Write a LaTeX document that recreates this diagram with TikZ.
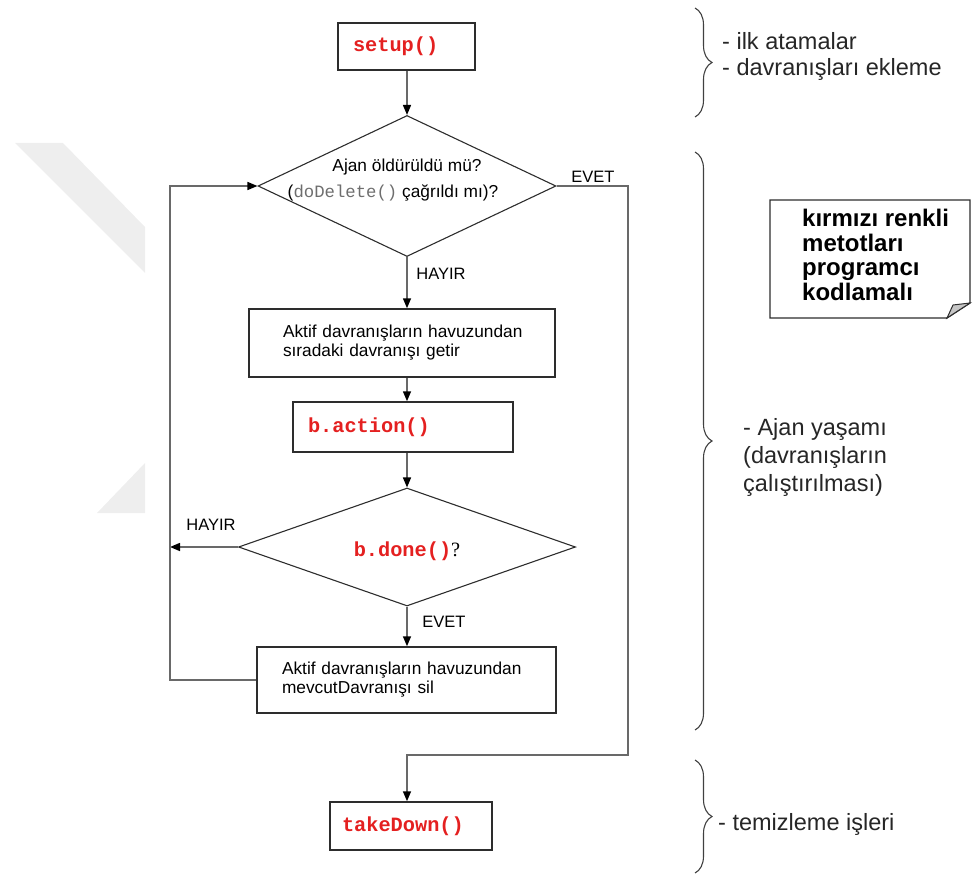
\documentclass[tikz,border=0pt]{standalone}
\usepackage{fontspec}
\setmainfont{Liberation Sans}
\setmonofont{Liberation Mono}
\newfontfamily\serifface{Liberation Serif}
\usetikzlibrary{arrows.meta,decorations.pathreplacing,shapes.geometric}
\definecolor{codered}{RGB}{228,32,32}
\definecolor{linegray}{RGB}{105,105,105}
\definecolor{boxline}{RGB}{45,45,45}
\definecolor{wm}{RGB}{238,238,238}
\definecolor{codegray}{RGB}{110,110,110}
\newcommand{\redcode}[1]{{\fontsize{20.3}{22}\selectfont\ttfamily\bfseries\color{codered}#1}}
\begin{document}
\begin{tikzpicture}[x=1pt,y=-1pt,
  box/.style={draw=boxline,line width=1.5pt,rectangle,inner xsep=0pt,inner ysep=0pt,align=left},
  dia/.style={draw=boxline,line width=1.1pt,diamond,inner sep=0pt},
  conn/.style={draw=linegray,line width=1.5pt},
  arr/.style={conn,-{Triangle[length=10pt,width=8pt,color=black]}},
  txt/.style={font=\fontsize{17.3}{19}\selectfont},
  lbl/.style={font=\fontsize{16.5}{18}\selectfont,inner sep=0pt,anchor=base},
  side/.style={font=\fontsize{23.5}{28}\selectfont,align=left,inner sep=0pt,text=black!85,anchor=north west},
  brc/.style={draw=black!75,line width=1.1pt,decorate,decoration={brace,amplitude=17pt}}
]
\useasboundingbox (0,0) rectangle (973,877);
% watermark
\fill[wm] (15,143) -- (63,143) -- (145,227) -- (145,273) -- cycle;
\fill[wm] (145,463) -- (145,513) -- (97,513) -- cycle;

% nodes
\node[box,text width=137pt,minimum height=47pt] (setup) at (406.5,46.5) {\hspace*{15pt}\redcode{setup()}};
\node[dia,minimum width=298pt,minimum height=141pt] (d1) at (407,186) {};
\node[txt,anchor=base] (q1a) at (407,172) {Ajan öldürüldü mü?};
\node[txt,anchor=base] (q1b) at (393,198) {(\textcolor{codegray}{\ttfamily doDelete()} çağrıldı mı)?};
\node[box,txt,text width=306pt,minimum height=68pt] (box1) at (402,343) {\hspace*{34pt}Aktif davranışların havuzundan\\\hspace*{34pt}sıradaki davranışı getir};
\node[box,text width=220pt,minimum height=50pt] (bact) at (403,427) {\hspace*{15pt}\redcode{b.action()}};
\node[dia,minimum width=337pt,minimum height=118pt] (d2) at (407,547) {};
\node[anchor=base,inner sep=0pt] (q2) at (407,556) {\redcode{b.done()}{\fontsize{20.3}{22}\selectfont\serifface ?}};
\node[box,txt,text width=299pt,minimum height=66pt] (box3) at (406.5,680) {\hspace*{25pt}Aktif davranışların havuzundan\\\hspace*{25pt}mevcutDavranışı sil};
\node[box,text width=162pt,minimum height=48pt] (td) at (411,826) {\hspace*{12pt}\redcode{takeDown()}};

\coordinate (L) at (170,0);
\coordinate (R) at (628,0);
\coordinate (J) at (0,755);

% connectors
\draw[arr] (setup.south -| d1.north) -- (d1.north);
\draw[arr] (d1.south) -- (d1.south |- box1.north);
\draw[arr] (d1.south |- box1.south) -- (d1.south |- bact.north);
\draw[arr] (d1.south |- bact.south) -- (d2.north);
\draw[arr] (d2.south) -- (d2.south |- box3.north);
\draw[arr] (d2.west) -- (L |- d2.west);
\draw[arr] (box3.west) -- (L |- box3.west) -- (L |- d1.west) -- (d1.west);
\draw[arr] (d1.east) -- (R |- d1.east) -- (R |- J) -- (d1.south |- J) -- (d1.south |- td.north);

% labels
\node[lbl] (evet1) at (593,183) {EVET};
\node[lbl] (hayir1) at (441,279) {HAYIR};
\node[lbl] (hayir2) at (211,530) {HAYIR};
\node[lbl] (evet2) at (444,627) {EVET};

% note
\draw[draw=boxline,line width=1.3pt,fill=white] (770,200) -- (970,200) -- (970,303) -- (947,318) -- (770,318) -- cycle;
\draw[draw=boxline,line width=1pt,fill=gray!45] (947,318) -- (953,305) -- (970,303) -- cycle;
\node[anchor=north west,inner sep=0pt,align=left,font=\fontsize{24}{24.5}\selectfont\bfseries] (note) at (802,209) {kırmızı renkli\\metotları\\programcı\\kodlamalı};

% braces and side texts
\draw[brc] (695,8) -- (695,117);
\draw[brc] (695,152) -- (695,730);
\draw[brc] (695,760) -- (695,873);
\node[side,font=\fontsize{23.5}{26}\selectfont] (s1) at (722,32) {- ilk atamalar\\- davranışları ekleme};
\node[side] (s2) at (743,418) {- Ajan yaşamı\\(davranışların\\çalıştırılması)};
\node[side] (s3) at (718,813) {- temizleme işleri};
\end{tikzpicture}
\end{document}
